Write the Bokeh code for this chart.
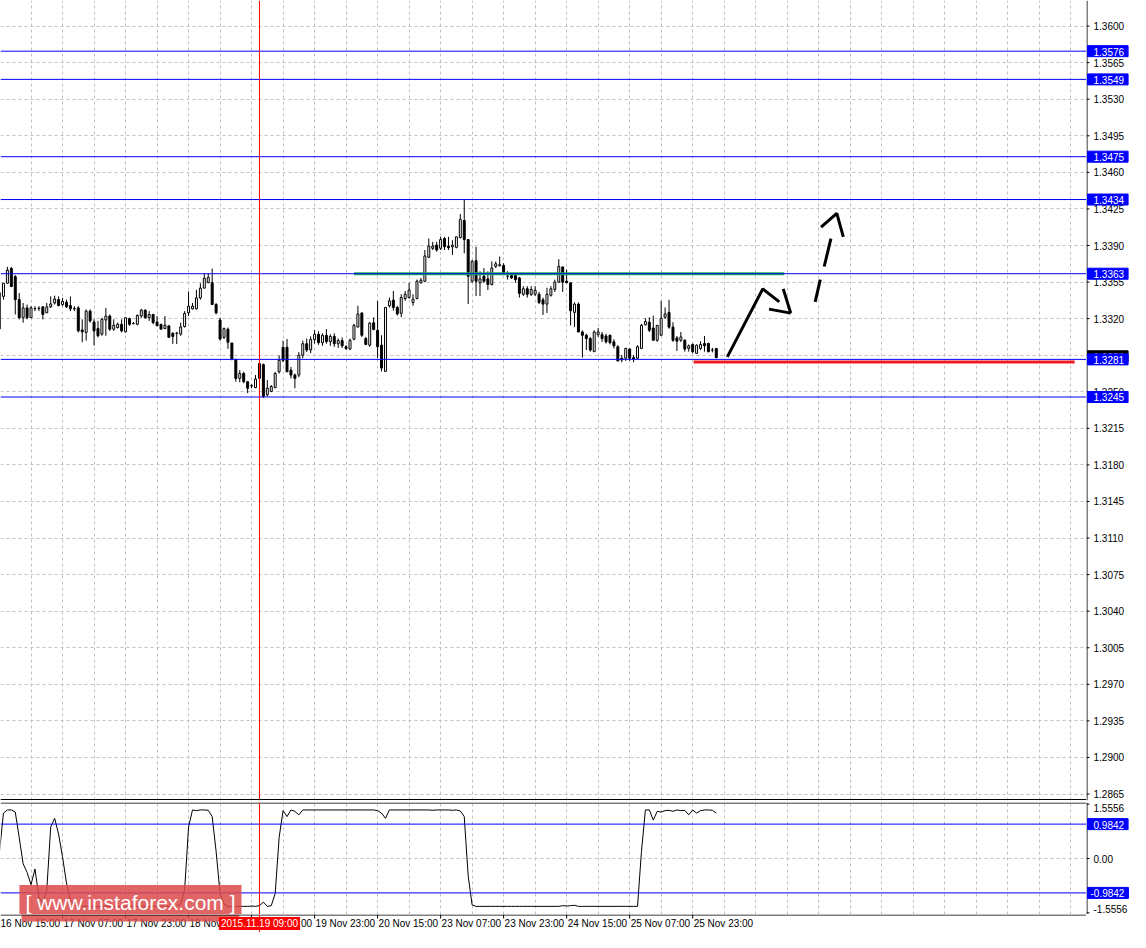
from bokeh.plotting import figure
from bokeh.layouts import column, row
from bokeh.models import Range1d, FixedTicker, Grid, Span, Label, ColumnDataSource
from bokeh.core.properties import value
from bokeh.embed import file_html
from bokeh.resources import INLINE

FONT = "Liberation Sans"

# ---------------- data (H1 bars, index 0 = 16 Nov 15:00) ----------------
opens = [1.3345, 1.33413, 1.33539, 1.33680, 1.33602, 1.33382, 1.33209, 1.33303, 1.33209, 1.33294,
         1.33297, 1.33313, 1.33256, 1.33313, 1.33350, 1.33382, 1.33335, 1.33357, 1.33325, 1.33297,
         1.33303, 1.33092, 1.33068, 1.33272, 1.33168, 1.33105, 1.33052, 1.33187, 1.33225, 1.33099,
         1.33115, 1.33146, 1.33074, 1.33200, 1.33153, 1.33146, 1.33225, 1.33281, 1.33209, 1.33240,
         1.33168, 1.33146, 1.33105, 1.33131, 1.33061, 1.33058, 1.33052, 1.33124, 1.33256, 1.33294,
         1.33294, 1.33398, 1.33492, 1.33545, 1.33545, 1.33335, 1.33187, 1.33021, 1.33099, 1.32967,
         1.32810, 1.32628, 1.32675, 1.32597, 1.32556, 1.32540, 1.32628, 1.32760, 1.32471, 1.32503,
         1.32540, 1.32691, 1.32926, 1.32926, 1.32707, 1.32660, 1.32660, 1.32850, 1.32960, 1.32900,
         1.33000, 1.33050, 1.32970, 1.33040, 1.32980, 1.33030, 1.32960, 1.32990, 1.32931, 1.32909,
         1.33003, 1.33119, 1.33254, 1.33009, 1.32946, 1.33160, 1.33088, 1.32946, 1.32695, 1.33323,
         1.33377, 1.33307, 1.33251, 1.33392, 1.33402, 1.33355, 1.33392, 1.33543, 1.33558, 1.33788,
         1.33873, 1.33904, 1.33873, 1.33967, 1.33894, 1.33888, 1.33882, 1.33976, 1.34139, 1.33957,
         1.33558, 1.33756, 1.33543, 1.33606, 1.33580, 1.33527, 1.33700, 1.33706, 1.33709, 1.33606,
         1.33612, 1.33612, 1.33590, 1.33433, 1.33486, 1.33433, 1.33433, 1.33433, 1.33380, 1.33339,
         1.33424, 1.33480, 1.33549, 1.33694, 1.33558, 1.33543, 1.33260, 1.33339, 1.33072, 1.33041,
         1.33009, 1.32884, 1.33047, 1.33047, 1.33034, 1.33041, 1.32978, 1.32931, 1.32821, 1.32821,
         1.32909, 1.32827, 1.32821, 1.32915, 1.33141, 1.33166, 1.33110, 1.32993, 1.33041, 1.33213,
         1.33260, 1.33119, 1.33015, 1.32993, 1.32993, 1.32915, 1.32953, 1.32868, 1.32915, 1.32962,
         1.32962, 1.32899, 1.32915]
highs = [1.3349, 1.33539, 1.33696, 1.33696, 1.33617, 1.33445, 1.33350, 1.33335, 1.33319, 1.33319,
         1.33319, 1.33319, 1.33350, 1.33413, 1.33420, 1.33413, 1.33398, 1.33382, 1.33413, 1.33319,
         1.33319, 1.33193, 1.33288, 1.33288, 1.33193, 1.33178, 1.33209, 1.33303, 1.33240, 1.33193,
         1.33162, 1.33193, 1.33209, 1.33209, 1.33168, 1.33240, 1.33294, 1.33288, 1.33272, 1.33240,
         1.33225, 1.33146, 1.33225, 1.33131, 1.33068, 1.33074, 1.33162, 1.33272, 1.33460, 1.33350,
         1.33476, 1.33539, 1.33633, 1.33633, 1.33680, 1.33350, 1.33209, 1.33115, 1.33115, 1.32967,
         1.32817, 1.32707, 1.32691, 1.32597, 1.32572, 1.32660, 1.32780, 1.32770, 1.32613, 1.32565,
         1.32691, 1.32848, 1.32989, 1.33005, 1.32738, 1.32675, 1.32880, 1.32990, 1.33010, 1.33030,
         1.33090, 1.33080, 1.33060, 1.33100, 1.33050, 1.33060, 1.33010, 1.33020, 1.32946, 1.33009,
         1.33150, 1.33323, 1.33260, 1.33025, 1.33166, 1.33213, 1.33370, 1.33041, 1.33307, 1.33402,
         1.33464, 1.33323, 1.33433, 1.33464, 1.33543, 1.33433, 1.33574, 1.33590, 1.33857, 1.33967,
         1.33935, 1.33935, 1.33983, 1.33983, 1.33983, 1.33951, 1.33983, 1.34202, 1.34344, 1.33957,
         1.33763, 1.33888, 1.33653, 1.33684, 1.33653, 1.33747, 1.33747, 1.33794, 1.33731, 1.33653,
         1.33637, 1.33621, 1.33599, 1.33511, 1.33511, 1.33511, 1.33511, 1.33455, 1.33402, 1.33496,
         1.33511, 1.33574, 1.33769, 1.33700, 1.33669, 1.33549, 1.33355, 1.33355, 1.33088, 1.33056,
         1.33025, 1.33088, 1.33110, 1.33072, 1.33056, 1.33047, 1.33003, 1.32946, 1.32852, 1.32921,
         1.32915, 1.32852, 1.32946, 1.33150, 1.33204, 1.33213, 1.33229, 1.33141, 1.33370, 1.33307,
         1.33380, 1.33166, 1.33034, 1.33072, 1.33003, 1.32953, 1.32962, 1.32953, 1.32984, 1.33034,
         1.32971, 1.32921, 1.32915]
lows = [1.3304, 1.33382, 1.33539, 1.33507, 1.33240, 1.33193, 1.33162, 1.33193, 1.33209, 1.33272,
        1.33272, 1.33193, 1.33256, 1.33303, 1.33335, 1.33319, 1.33319, 1.33303, 1.33272, 1.33272,
        1.33068, 1.32974, 1.32989, 1.33162, 1.32942, 1.33021, 1.33036, 1.33036, 1.33083, 1.33083,
        1.33105, 1.33068, 1.33068, 1.33131, 1.33146, 1.33137, 1.33209, 1.33200, 1.33178, 1.33146,
        1.33131, 1.33099, 1.33099, 1.33021, 1.32958, 1.32958, 1.33036, 1.33115, 1.33225, 1.33288,
        1.33288, 1.33382, 1.33492, 1.33539, 1.33335, 1.33240, 1.32989, 1.33005, 1.32911, 1.32801,
        1.32597, 1.32591, 1.32581, 1.32487, 1.32534, 1.32534, 1.32620, 1.32440, 1.32455, 1.32496,
        1.32534, 1.32675, 1.32785, 1.32691, 1.32628, 1.32534, 1.32640, 1.32820, 1.32880, 1.32870,
        1.32960, 1.32950, 1.32940, 1.32960, 1.32940, 1.32930, 1.32920, 1.32920, 1.32899, 1.32899,
        1.32993, 1.33119, 1.33025, 1.32946, 1.32931, 1.33088, 1.32821, 1.32695, 1.32695, 1.33307,
        1.33276, 1.33229, 1.33213, 1.33370, 1.33392, 1.33323, 1.33386, 1.33536, 1.33549, 1.33779,
        1.33857, 1.33841, 1.33857, 1.33857, 1.33857, 1.33810, 1.33873, 1.33967, 1.33826, 1.33339,
        1.33543, 1.33417, 1.33417, 1.33543, 1.33474, 1.33518, 1.33684, 1.33700, 1.33621, 1.33574,
        1.33580, 1.33543, 1.33402, 1.33417, 1.33402, 1.33417, 1.33417, 1.33339, 1.33235, 1.33254,
        1.33411, 1.33455, 1.33543, 1.33455, 1.33543, 1.33135, 1.33119, 1.33072, 1.32827, 1.32899,
        1.32884, 1.32884, 1.33025, 1.32978, 1.32962, 1.32953, 1.32915, 1.32789, 1.32783, 1.32796,
        1.32796, 1.32783, 1.32814, 1.32909, 1.33135, 1.33072, 1.32993, 1.32978, 1.33034, 1.33197,
        1.33103, 1.32978, 1.32890, 1.32978, 1.32884, 1.32884, 1.32868, 1.32868, 1.32899, 1.32884,
        1.32877, 1.32877, 1.32821]
closes = [1.3310, 1.33539, 1.33664, 1.33507, 1.33382, 1.33209, 1.33303, 1.33209, 1.33303, 1.33297,
          1.33300, 1.33240, 1.33313, 1.33341, 1.33388, 1.33325, 1.33366, 1.33313, 1.33294, 1.33294,
          1.33083, 1.33074, 1.33272, 1.33178, 1.33083, 1.33036, 1.33193, 1.33225, 1.33099, 1.33137,
          1.33146, 1.33083, 1.33209, 1.33146, 1.33153, 1.33231, 1.33281, 1.33209, 1.33240, 1.33162,
          1.33131, 1.33099, 1.33137, 1.33021, 1.33030, 1.33061, 1.33121, 1.33250, 1.33319, 1.33319,
          1.33398, 1.33492, 1.33586, 1.33595, 1.33335, 1.33256, 1.33005, 1.33105, 1.32974, 1.32810,
          1.32628, 1.32675, 1.32597, 1.32534, 1.32560, 1.32622, 1.32770, 1.32455, 1.32534, 1.32550,
          1.32675, 1.32801, 1.32801, 1.32691, 1.32660, 1.32628, 1.32850, 1.32960, 1.32900, 1.33000,
          1.33050, 1.32970, 1.33040, 1.32980, 1.33030, 1.32960, 1.32990, 1.32940, 1.32915, 1.32993,
          1.33135, 1.33245, 1.33041, 1.32953, 1.33157, 1.33097, 1.32931, 1.32727, 1.33307, 1.33370,
          1.33307, 1.33245, 1.33402, 1.33433, 1.33474, 1.33386, 1.33558, 1.33568, 1.33800, 1.33894,
          1.33894, 1.33857, 1.33957, 1.33888, 1.33879, 1.33904, 1.33983, 1.34149, 1.33957, 1.33606,
          1.33747, 1.33558, 1.33580, 1.33558, 1.33527, 1.33684, 1.33725, 1.33716, 1.33631, 1.33606,
          1.33590, 1.33574, 1.33442, 1.33486, 1.33433, 1.33480, 1.33471, 1.33355, 1.33339, 1.33433,
          1.33486, 1.33549, 1.33700, 1.33549, 1.33543, 1.33276, 1.33339, 1.33072, 1.33041, 1.33009,
          1.32899, 1.33072, 1.33072, 1.33009, 1.32978, 1.32971, 1.32940, 1.32796, 1.32805, 1.32915,
          1.32821, 1.32814, 1.32931, 1.33135, 1.33172, 1.33088, 1.32993, 1.33135, 1.33204, 1.33245,
          1.33119, 1.32993, 1.32984, 1.33025, 1.32909, 1.32940, 1.32884, 1.32946, 1.32953, 1.32940,
          1.32884, 1.32899, 1.32827]

# oscillator in the lower pane (one value per bar)
oscillator = [0.20, 1.30, 1.39, 1.39, 1.33, 0.60, -0.15, -0.40, -0.75, -0.30,
              -1.10, -1.30, -0.90, 0.90, 1.15, 0.70, 0.05, -0.70, -1.20, -1.35,
              -1.37, -1.37, -1.36, -1.37, -1.37, -1.38, -1.37, -1.36, -1.37, -1.37,
              -1.37, -1.38, -1.37, -1.37, -1.36, -1.37, -1.37, -1.37, -1.38, -1.37,
              -1.37, -1.36, -1.37, -1.37, -1.37, -1.36, -1.30, -0.90, 0.90, 1.39,
              1.37, 1.39, 1.39, 1.38, 1.20, 0.20, -1.00, -1.30, -1.37, -1.37,
              -1.38, -1.37, -1.37, -1.37, -1.36, -1.37, -1.35, -1.25, -1.37, -1.35,
              -1.00, 0.60, 1.37, 1.20, 1.39, 1.35, 1.25, 1.39, 1.39, 1.39,
              1.39, 1.39, 1.39, 1.39, 1.39, 1.39, 1.39, 1.39, 1.39, 1.39,
              1.39, 1.39, 1.39, 1.39, 1.39, 1.39, 1.37, 1.30, 1.15, 1.39,
              1.39, 1.39, 1.39, 1.39, 1.39, 1.39, 1.39, 1.39, 1.39, 1.39,
              1.38, 1.39, 1.39, 1.39, 1.39, 1.38, 1.39, 1.36, 1.20, -0.50,
              -1.33, -1.37, -1.37, -1.37, -1.37, -1.37, -1.37, -1.37, -1.37, -1.37,
              -1.37, -1.37, -1.37, -1.37, -1.37, -1.37, -1.37, -1.37, -1.37, -1.37,
              -1.37, -1.37, -1.37, -1.35, -1.36, -1.35, -1.34, -1.37, -1.37, -1.37,
              -1.37, -1.37, -1.37, -1.37, -1.37, -1.37, -1.37, -1.37, -1.37, -1.37,
              -1.37, -1.37, -1.37, 0.20, 1.39, 1.39, 1.10, 1.35, 1.33, 1.37,
              1.38, 1.35, 1.39, 1.37, 1.38, 1.25, 1.39, 1.30, 1.37, 1.39,
              1.39, 1.38, 1.30]

levels = [1.3576, 1.3549, 1.3475, 1.3434, 1.3363, 1.3281, 1.3245]
bid_price = 1.3284
osc_levels = [0.9842, -0.9842]
price_ticks = [1.2865, 1.2900, 1.2935, 1.2970, 1.3005, 1.3040, 1.3075, 1.3110, 1.3145, 1.3180,
               1.3215, 1.3250, 1.3285, 1.3320, 1.3355, 1.3390, 1.3425, 1.3460, 1.3495, 1.3530,
               1.3565, 1.3600]
osc_ticks = [1.5556, 0.0, -1.5556]
osc_tick_labels = ["1.5556", "0.00", "-1.5556"]
time_tick_bars = [0, 16, 32, 48, 64, 80, 96, 112, 128, 144, 160, 176]
time_tick_labels = ["16 Nov 15:00", "17 Nov 07:00", "17 Nov 23:00", "18 Nov 15:00",
                    "19 Nov 07:00", "19 Nov 23:00", "20 Nov 15:00", "23 Nov 07:00",
                    "23 Nov 23:00", "24 Nov 15:00", "25 Nov 07:00", "25 Nov 23:00"]
cursor_bar = 66
cursor_label = "2015.11.19 09:00"
watermark = "[ www.instaforex.com ]"

# hand drawn annotations (bar index, price)
resistance = ([90.0, 199.25], [1.3363, 1.3363])
support = ([176.25, 273.0], [1.32784, 1.32784])
arrow_solid = [([184.8, 193.8, 198.0], [1.32834, 1.33485, 1.33360]),
               ([199.0, 200.9], [1.33485, 1.33253]),
               ([195.4, 200.9], [1.33291, 1.33253])]
arrow_dashed = [([207.1, 208.4], [1.33360, 1.33574]),
                ([209.4, 211.1], [1.33699, 1.33966]),
                ([208.6, 212.6, 214.25], [1.34076, 1.34208, 1.33982])]

# ---------------- layout constants ----------------
X0, X1 = 0.25, 276.0
FW, SW = 1086, 44          # chart frame width, price-scale strip width
MH, OH, TH = 800, 112, 18  # main, oscillator, time-strip heights
PY0, PY1 = 1.28588, 1.36245
OY = 1.603
GRID = "#C0C0C0"
BLUE = "#0000FF"
vgrid = list(range(0, 280, 8))


def base_fig(w, h, xr, yr, **kw):
    f = figure(frame_width=w, frame_height=h, x_range=xr, y_range=yr, x_axis_location=None,
               y_axis_location=None, output_backend="svg", toolbar_location=None,
               min_border=0, **kw)
    f.grid.visible = False
    f.outline_line_color = None
    f.background_fill_color = "white"
    f.border_fill_color = "white"
    return f


def tag(fig, y, text, color, pad_left=6):
    fig.add_layout(Label(x=1, y=y, text=text, text_color="white", text_font=FONT,
                         text_font_size="10px", text_baseline="middle", text_align="left",
                         background_fill_color=color, background_fill_alpha=1.0,
                         border_line_color=color,
                         padding=dict(left=pad_left, right=4, top=2, bottom=1)))


n = len(opens)
src = ColumnDataSource(dict(
    x=list(range(n)), o=opens, h=highs, l=lows, c=closes,
    top=[max(a, b) for a, b in zip(opens, closes)],
    bottom=[min(a, b) for a, b in zip(opens, closes)],
    fill=["white" if c >= o else "black" for o, c in zip(opens, closes)],
))

xr = Range1d(X0, X1)
pyr = Range1d(PY0, PY1)
oyr = Range1d(-OY, OY)

# ---- main price chart
p = base_fig(FW, MH, xr, pyr, min_border_bottom=2)
p.add_layout(Grid(dimension=1, ticker=FixedTicker(ticks=price_ticks), grid_line_color=GRID,
                  grid_line_dash="3 3"))
p.add_layout(Grid(dimension=0, ticker=FixedTicker(ticks=vgrid), grid_line_color=GRID,
                  grid_line_dash="3 3"))
for lv in levels:
    p.add_layout(Span(location=lv, dimension="width", line_color=BLUE, line_width=1))
p.add_layout(Span(location=cursor_bar, dimension="height", line_color="red", line_width=1))
p.add_layout(Span(location=PY0 + (PY1 - PY0) / MH, dimension="width", line_color="black",
                  line_width=1))

p.segment(x0="x", y0="l", x1="x", y1="h", source=src, line_color="black", line_width=1)
p.vbar(x="x", width=0.5, top="top", bottom="bottom", fill_color="fill", line_color="black",
       line_width=1, source=src)

p.line(resistance[0], resistance[1], line_color="#22B14C", line_width=3)
p.line(support[0], support[1], line_color="#ED1C24", line_width=3)
for xs, ys in arrow_solid + arrow_dashed:
    p.line(xs, ys, line_color="black", line_width=3)

# ---- price scale strip (x in pixels)
ps = base_fig(SW, MH, Range1d(0, SW), pyr, min_border_bottom=2)
ps.add_layout(Span(location=0.5, dimension="height", line_color="black", line_width=1))
ps.segment(x0=[0] * len(price_ticks), x1=[3] * len(price_ticks), y0=price_ticks, y1=price_ticks,
           line_color="black", line_width=1)
ps.text(x=[7] * len(price_ticks), y=price_ticks, text=[f"{t:.4f}" for t in price_ticks],
        text_font=value(FONT), text_font_size="10px", text_baseline="middle",
        text_align="left", text_color="black")
tag(ps, bid_price, f"{bid_price:.4f}", "black")
for lv in levels:
    tag(ps, lv, f"{lv:.4f}", BLUE)

# ---- oscillator pane
q = base_fig(FW, OH, xr, oyr)
q.add_layout(Grid(dimension=1, ticker=FixedTicker(ticks=[0.0]), grid_line_color=GRID,
                  grid_line_dash="3 3"))
q.add_layout(Grid(dimension=0, ticker=FixedTicker(ticks=vgrid), grid_line_color=GRID,
                  grid_line_dash="3 3"))
q.add_layout(Span(location=OY - OY / OH, dimension="width", line_color="black", line_width=1))
for lv in osc_levels:
    q.add_layout(Span(location=lv, dimension="width", line_color=BLUE, line_width=1))
q.add_layout(Span(location=cursor_bar, dimension="height", line_color="red", line_width=1))
q.line(list(range(n)), oscillator, line_color="black", line_width=1)
q.add_layout(Label(x=33.25, y=-1.26, text=watermark, text_font=FONT,
                   text_font_size="21px", text_baseline="middle", text_align="center",
                   text_color="white", background_fill_color="#DC4A4A", background_fill_alpha=0.85,
                   padding=dict(left=6, right=6, top=6, bottom=6)))

# ---- oscillator scale strip
qs = base_fig(SW, OH, Range1d(0, SW), oyr)
qs.add_layout(Span(location=0.5, dimension="height", line_color="black", line_width=1))
qs.segment(x0=[0] * 3, x1=[3] * 3, y0=osc_ticks, y1=osc_ticks, line_color="black", line_width=1)
qs.text(x=[7] * 3, y=osc_ticks, text=osc_tick_labels, text_font=value(FONT),
        text_font_size="10px", text_baseline=["top", "middle", "bottom"], text_align="left",
        text_color="black")
for lv in osc_levels:
    tag(qs, lv, f"{lv:.4f}", BLUE, pad_left=6 if lv > 0 else 3)

# ---- time strip (y in pixels, 0 = bottom)
t = base_fig(FW, TH, xr, Range1d(0, TH))
t.add_layout(Span(location=TH - 0.5, dimension="width", line_color="black", line_width=1))
t.add_layout(Span(location=cursor_bar, dimension="height", line_color="red", line_width=1))
t.segment(x0=time_tick_bars, x1=time_tick_bars, y0=[TH] * len(time_tick_bars),
          y1=[TH - 4] * len(time_tick_bars), line_color="black", line_width=1)
t.text(x=time_tick_bars, y=[TH - 9] * len(time_tick_bars), text=time_tick_labels, x_offset=1,
       text_font=value(FONT), text_font_size="10px", text_baseline="middle", text_align="left",
       text_color="black")
t.quad(left=[5.6], right=[60.9], bottom=[TH - 7], top=[TH], fill_color="#DC4A4A",
       fill_alpha=0.85, line_color=None)
t.add_layout(Label(x=cursor_bar, y=TH - 9, text=cursor_label, text_font=FONT,
                   text_font_size="10px", text_baseline="middle", text_align="center",
                   text_color="white", background_fill_color="red",
                   padding=dict(left=2, right=2, top=1, bottom=1)))

layout = column(row(p, ps, spacing=0), row(q, qs, spacing=0), t, spacing=0)
open("out.html", "w").write(file_html(layout, INLINE))
